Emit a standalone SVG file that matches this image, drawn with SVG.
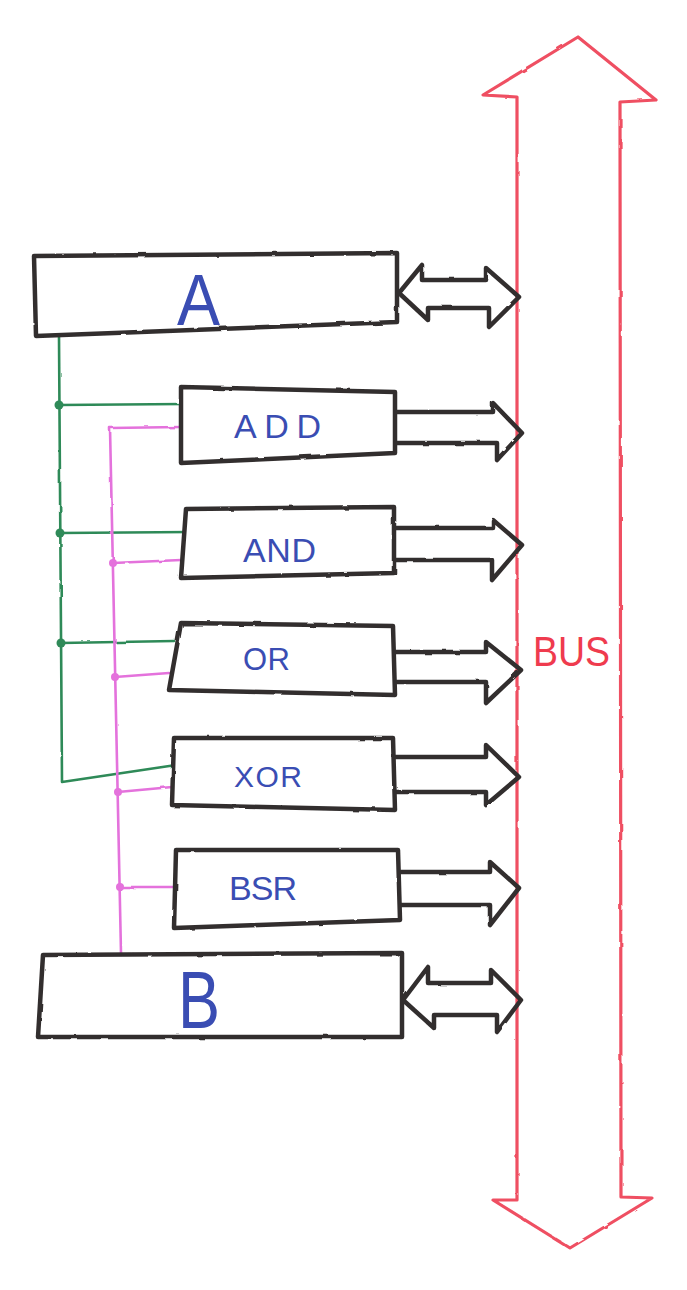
<svg xmlns="http://www.w3.org/2000/svg" width="687" height="1290" viewBox="0 0 687 1290">
<defs>
<filter id="rough" x="-5%" y="-5%" width="110%" height="110%">
<feTurbulence type="fractalNoise" baseFrequency="0.06" numOctaves="2" seed="3"/>
<feDisplacementMap in="SourceGraphic" scale="2.2"/>
</filter>
</defs>
<style>
.box{fill:#fff;stroke:#332f2f;stroke-width:4.5;stroke-linejoin:round;stroke-linecap:round}
.arr{fill:none;stroke:#332f2f;stroke-width:4.5;stroke-linejoin:round;stroke-linecap:round}
.grn{fill:none;stroke:#2f8a58;stroke-width:2.6;stroke-linejoin:round;stroke-linecap:round}
.pnk{fill:none;stroke:#e472dc;stroke-width:2.6;stroke-linejoin:round;stroke-linecap:round}
.gdot{fill:#2f8a58}
.pdot{fill:#e472dc}
.bus{fill:none;stroke:#ef4f62;stroke-width:3.2;stroke-linejoin:round;stroke-linecap:round}
.lbl{font-family:"Liberation Sans","DejaVu Sans",sans-serif;fill:#3a4db3}
.buslbl{font-family:"Liberation Sans","DejaVu Sans",sans-serif;fill:#ef3b4e}
</style>
<rect width="687" height="1290" fill="#ffffff"/>

<g id="BUS">
<path class="bus" filter="url(#rough)" d="M517,1200 L517,97 L483,95 L578,37 L656,100 L620,102 L621,1197 L652,1198 L570,1248 L493,1200 Z"/>
<text class="buslbl" x="533" y="666" font-size="42" textLength="77" lengthAdjust="spacingAndGlyphs">BUS</text>
</g>

<g id="connectors">
<g filter="url(#rough)">
<path class="grn" d="M59,337 L62,782 L176,765"/>
<path class="grn" d="M59,405 L184,404"/>
<path class="grn" d="M60,533 L191,532"/>
<path class="grn" d="M61,643 L174,641"/>
<path class="pnk" d="M181,427 L110,428 L121,953"/>
<path class="pnk" d="M113,563 L181,560"/>
<path class="pnk" d="M115,677 L169,673"/>
<path class="pnk" d="M118,792 L172,787"/>
<path class="pnk" d="M120,887 L176,887"/>
<path class="arr" d="M399,293 L422,265 L422,280 L486,280 L486,268 L519,297 L489,327 L489,308 L428,308 L428,320 Z"/>
<path class="arr" d="M395,412 L493,412 L493,403 L522,433 L497,460 L497,443 L395,443"/>
<path class="arr" d="M394,528 L493,528 L493,520 L522,545 L492,580 L492,560 L394,560"/>
<path class="arr" d="M395,652 L486,652 L486,642 L521,670 L486,703 L486,682 L395,682"/>
<path class="arr" d="M395,757 L486,757 L486,745 L519,777 L486,805 L486,792 L395,792"/>
<path class="arr" d="M400,872 L490,872 L490,862 L519,888 L490,925 L490,905 L400,905"/>
<path class="arr" d="M403,1000 L428,967 L428,983 L491,983 L491,970 L521,1000 L497,1032 L497,1015 L434,1015 L434,1028 Z"/>
</g>
<circle class="gdot" cx="59" cy="405" r="4.5"/>
<circle class="gdot" cx="60" cy="533" r="4.5"/>
<circle class="gdot" cx="61" cy="643" r="4.5"/>
<circle class="pdot" cx="113" cy="563" r="4"/>
<circle class="pdot" cx="115" cy="677" r="4"/>
<circle class="pdot" cx="118" cy="792" r="4"/>
<circle class="pdot" cx="120" cy="887" r="4"/>
</g>

<g id="A">
<path class="box" filter="url(#rough)" d="M34,256 L397,253 L397,322 L36,336 Z"/>
<text class="lbl" x="177" y="325" font-size="72" textLength="43" lengthAdjust="spacingAndGlyphs">A</text>
</g>

<g id="ADD">
<path class="box" filter="url(#rough)" d="M181,387 L395,392 L395,453 L181,463 Z"/>
<text class="lbl" x="234" y="438" font-size="34" textLength="87" lengthAdjust="spacing">ADD</text>
</g>

<g id="AND">
<path class="box" filter="url(#rough)" d="M186,509 L394,507 L394,573 L181,578 Z"/>
<text class="lbl" x="243" y="562" font-size="34" textLength="73" lengthAdjust="spacing">AND</text>
</g>

<g id="OR">
<path class="box" filter="url(#rough)" d="M181,623 L393,626 L395,695 L169,690 Z"/>
<text class="lbl" x="243" y="670" font-size="31" textLength="47" lengthAdjust="spacing">OR</text>
</g>

<g id="XOR">
<path class="box" filter="url(#rough)" d="M174,738 L393,738 L395,810 L172,805 Z"/>
<text class="lbl" x="234" y="787" font-size="30" textLength="68" lengthAdjust="spacing">XOR</text>
</g>

<g id="BSR">
<path class="box" filter="url(#rough)" d="M176,850 L398,850 L400,920 L174,928 Z"/>
<text class="lbl" x="229" y="900" font-size="34" textLength="68" lengthAdjust="spacing">BSR</text>
</g>

<g id="B">
<path class="box" filter="url(#rough)" d="M43,955 L402,953 L402,1037 L38,1037 Z"/>
<text class="lbl" x="178" y="1028" font-size="82" textLength="42" lengthAdjust="spacingAndGlyphs">B</text>
</g>
</svg>
